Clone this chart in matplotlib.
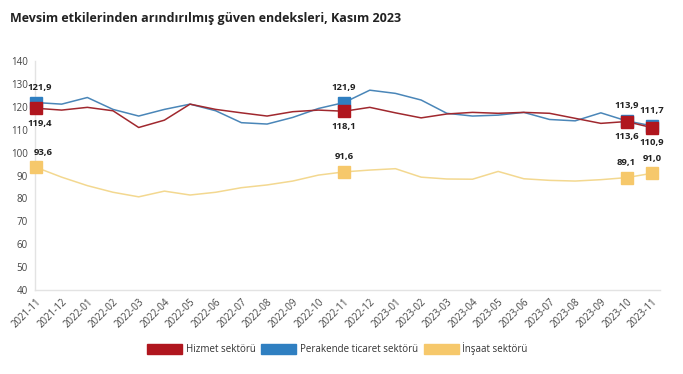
import matplotlib
matplotlib.use("Agg")
import matplotlib.pyplot as plt
from matplotlib.patches import Patch

plt.rcParams['font.family'] = ['Open Sans', 'DejaVu Sans']

months = ["2021-11", "2021-12", "2022-01", "2022-02", "2022-03", "2022-04", "2022-05",
          "2022-06", "2022-07", "2022-08", "2022-09", "2022-10", "2022-11", "2022-12",
          "2023-01", "2023-02", "2023-03", "2023-04", "2023-05", "2023-06", "2023-07",
          "2023-08", "2023-09", "2023-10", "2023-11"]

hizmet = [119.4, 118.6, 119.8, 118.3, 111.0, 114.2, 121.2, 118.9, 117.4, 116.0, 117.9, 118.6,
          118.1, 119.8, 117.4, 115.2, 116.9, 117.6, 117.2, 117.6, 117.2, 115.0, 112.8, 113.6, 110.9]
perakende = [121.9, 121.2, 124.1, 118.9, 116.0, 118.9, 121.2, 118.3, 113.1, 112.5, 115.4, 119.3,
             121.9, 127.3, 125.9, 123.0, 117.2, 116.0, 116.4, 117.6, 114.5, 113.9, 117.4, 113.9, 111.7]
insaat = [93.6, 89.3, 85.6, 82.7, 80.7, 83.2, 81.5, 82.7, 84.7, 85.9, 87.6, 90.2,
          91.6, 92.4, 93.0, 89.3, 88.5, 88.4, 91.8, 88.6, 87.9, 87.6, 88.2, 89.1, 91.0]

series_names = ["Hizmet sektörü", "Perakende ticaret sektörü", "İnşaat sektörü"]
marker_idx = [0, 12, 23, 24]
yticks = [40, 50, 60, 70, 80, 90, 100, 110, 120, 130, 140]

c_red = "#b0161e"
c_blue = "#2f7fc1"
c_yel = "#f6c86b"

fig = plt.figure(figsize=(6.83, 3.74), dpi=100)
ax = fig.add_axes([0.0512, 0.2246, 0.915, 0.612])
x = list(range(len(months)))

ax.plot(x, insaat, color="#f3d890", lw=1.1, zorder=2)
ax.plot(x, perakende, color="#4a86b8", lw=1.1, zorder=3)
ax.plot(x, hizmet, color="#a0282e", lw=1.1, zorder=4)

ms = 8.6
ax.plot([x[i] for i in marker_idx], [insaat[i] for i in marker_idx], 's', color=c_yel,
        ms=ms, mec=c_yel, zorder=5, clip_on=False)
ax.plot([x[i] for i in marker_idx], [perakende[i] for i in marker_idx], 's', color=c_blue,
        ms=ms, mec=c_blue, zorder=6, clip_on=False)
ax.plot([x[i] for i in marker_idx], [hizmet[i] for i in marker_idx], 's', color=c_red,
        ms=ms, mec=c_red, zorder=7, clip_on=False)

def fmt(v):
    return f"{v:.1f}".replace(".", ",")

lab_kw = dict(fontsize=6.8, fontweight="bold", color="#222222", ha="center", zorder=8)
for i in marker_idx:
    dx = 3 if i == 0 else 0
    ax.annotate(fmt(perakende[i]), (x[i], perakende[i]), xytext=(dx, 7.5),
                textcoords="offset points", va="bottom", **lab_kw)
    ax.annotate(fmt(hizmet[i]), (x[i], hizmet[i]), xytext=(dx, -7.5),
                textcoords="offset points", va="top", **lab_kw)
    ax.annotate(fmt(insaat[i]), (x[i], insaat[i]), xytext=(dx + 2 if i == 0 else dx, 7.5),
                textcoords="offset points", va="bottom", **lab_kw)

ax.set_xlim(-0.04, 24.3)
ax.set_ylim(40, 140)
ax.set_yticks(yticks)
ax.set_yticklabels([str(t) for t in yticks])
ax.set_xticks(x)
ax.set_xticklabels(months, rotation=45, ha="right", rotation_mode="anchor")
ax.tick_params(axis="both", length=0, labelsize=7, colors="#444444")
ax.tick_params(axis="x", pad=5)
ax.tick_params(axis="y", pad=5)

for s in ["top", "right"]:
    ax.spines[s].set_visible(False)
for s in ["left", "bottom"]:
    ax.spines[s].set_color("#e3e3e3")
    ax.spines[s].set_linewidth(1.0)

fig.text(0.0146, 0.95, "Mevsim etkilerinden arındırılmış güven endeksleri, Kasım 2023",
         fontsize=9, fontweight="bold", color="#222222", va="center", ha="left")

handles = [Patch(facecolor=c, edgecolor=c) for c in [c_red, c_blue, c_yel]]
fig.legend(handles, series_names, loc="center", bbox_to_anchor=(0.494, 0.067), ncol=3,
           frameon=False, fontsize=7, handlelength=3.6, handleheight=1.2,
           handletextpad=0.35, columnspacing=0.6, labelcolor="#333333")

fig.savefig("out.png", dpi=100)
